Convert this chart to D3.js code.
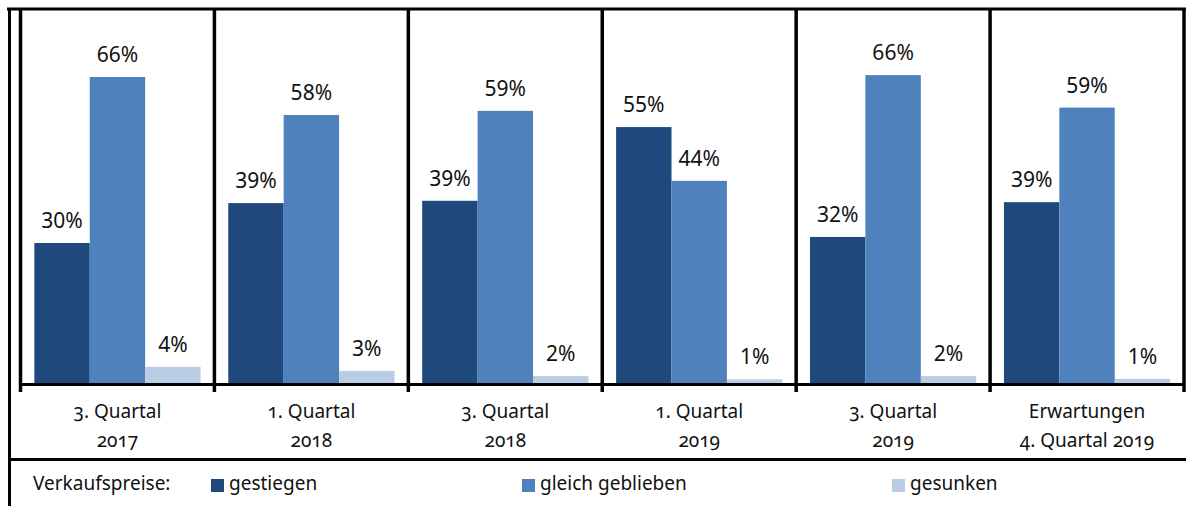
<!DOCTYPE html>
<head>
  <meta charset="utf-8">
  <title>Verkaufspreise</title>
  <script src="https://d3js.org/d3.v7.min.js"></script>
  <style>
    body { margin: 0; background: #fff; }
    svg { font-family: "Noto Sans", sans-serif; }
    .val { font-size: 21px; fill: #111; }
    .cat { font-size: 19px; fill: #111; font-variant-numeric: oldstyle-nums; }
    .leg { font-size: 19px; fill: #111; }
    .frame { stroke: #000; stroke-width: 3px; }
  </style>
</head>
<body>
<script>
  var categories = [
    ["3. Quartal", "2017"],
    ["1. Quartal", "2018"],
    ["3. Quartal", "2018"],
    ["1. Quartal", "2019"],
    ["3. Quartal", "2019"],
    ["Erwartungen", "4. Quartal 2019"]
  ];
  var seriesNames = ["gestiegen", "gleich geblieben", "gesunken"];
  var gestiegen = [30.2, 38.8, 39.3, 55.2, 31.5, 39];
  var gleichGeblieben = [66, 57.8, 58.7, 43.6, 66.4, 59.4];
  var gesunken = [3.5, 2.6, 1.5, 0.8, 1.5, 0.9];
  var colors = ["#1f497d", "#4f81bd", "#b9cde5"];

  var width = 1186, height = 506;
  var svg = d3.select("body").append("svg")
    .attr("width", width)
    .attr("height", height);

  var keys = categories.map(function(d, i) { return "c" + i; });
  var table = keys.map(function(k, i) {
    return { key: k, values: [gestiegen[i], gleichGeblieben[i], gesunken[i]] };
  });

  var x0 = d3.scaleBand().domain(keys).range([20.5, 1184]);
  var x1 = d3.scaleBand().domain(seriesNames)
    .range([0, x0.bandwidth()])
    .paddingOuter(0.25);
  var y = d3.scaleLinear().domain([0, 66]).range([383, 77]);

  // bars
  var groups = svg.append("g").selectAll("g")
    .data(table)
    .enter().append("g")
    .attr("transform", function(d) { return "translate(" + x0(d.key) + ",0)"; });

  groups.selectAll("rect")
    .data(function(d) { return d.values.map(function(v, i) { return { s: seriesNames[i], v: v, i: i }; }); })
    .enter().append("rect")
    .attr("x", function(d) { return x1(d.s); })
    .attr("width", x1.bandwidth())
    .attr("y", function(d) { return y(d.v); })
    .attr("height", function(d) { return y(0) - y(d.v); })
    .attr("fill", function(d) { return colors[d.i]; });

  groups.selectAll("text")
    .data(function(d) { return d.values.map(function(v, i) { return { s: seriesNames[i], v: v }; }); })
    .enter().append("text")
    .attr("class", "val")
    .attr("text-anchor", "middle")
    .attr("x", function(d) { return x1(d.s) + x1.bandwidth() / 2; })
    .attr("y", function(d) { return y(d.v) - 15; })
    .text(function(d) { return Math.round(d.v) + "%"; });

  // frame and axis
  var frame = svg.append("g").attr("class", "frame");
  frame.append("line").attr("x1", 7).attr("x2", width).attr("y1", 9).attr("y2", 9);
  frame.append("line").attr("x1", 9.5).attr("x2", 9.5).attr("y1", 8).attr("y2", height);
  frame.append("line").attr("x1", 8).attr("x2", width).attr("y1", 459.5).attr("y2", 459.5);
  frame.append("line").attr("x1", 20.5).attr("x2", 1184).attr("y1", 384.5).attr("y2", 384.5);

  var bounds = keys.map(function(k) { return x0(k); }).concat([x0.range()[1]]);
  frame.selectAll("line.sep")
    .data(bounds)
    .enter().append("line")
    .attr("class", "sep")
    .attr("x1", function(d) { return d; })
    .attr("x2", function(d) { return d; })
    .attr("y1", 8)
    .attr("y2", 392)
    .style("stroke-width", "3.5px");

  // category labels
  var catText = svg.append("g").selectAll("text")
    .data(table)
    .enter().append("text")
    .attr("class", "cat")
    .attr("text-anchor", "middle")
    .attr("x", function(d) { return x0(d.key) + x0.bandwidth() / 2; })
    .attr("y", 418);
  catText.append("tspan")
    .attr("x", function(d) { return x0(d.key) + x0.bandwidth() / 2; })
    .text(function(d, i) { return categories[i][0]; });
  catText.append("tspan")
    .attr("x", function(d) { return x0(d.key) + x0.bandwidth() / 2; })
    .attr("dy", 29)
    .text(function(d, i) { return categories[i][1]; });

  // legend
  var legend = svg.append("g").attr("class", "leg");
  legend.append("text").attr("x", 33).attr("y", 490).text("Verkaufspreise:");
  var legX = [211, 522, 892];
  var items = legend.selectAll("g")
    .data(seriesNames)
    .enter().append("g")
    .attr("transform", function(d, i) { return "translate(" + legX[i] + ",0)"; });
  items.append("rect")
    .attr("y", 479)
    .attr("width", 13)
    .attr("height", 13)
    .attr("fill", function(d, i) { return colors[i]; });
  items.append("text")
    .attr("x", 18)
    .attr("y", 490)
    .text(function(d) { return d; });
</script>
</body>
